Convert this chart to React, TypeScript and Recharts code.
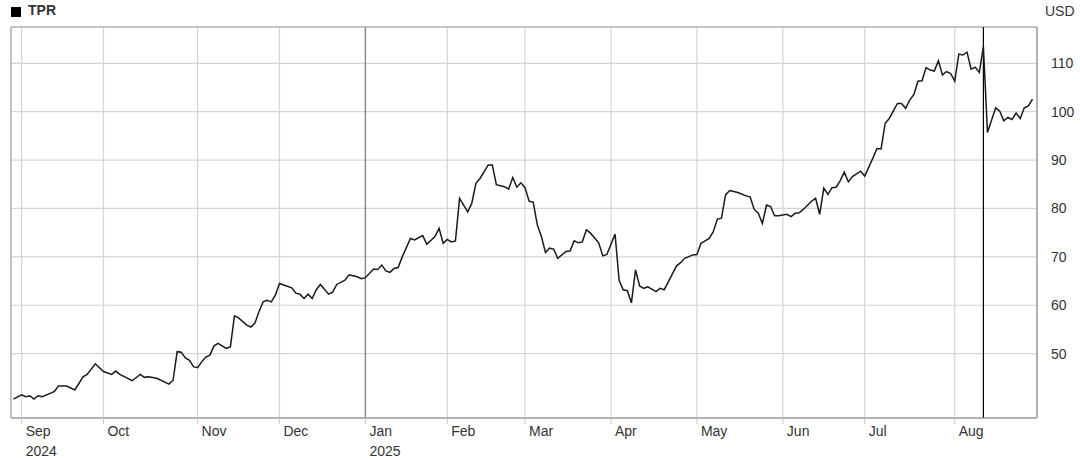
import {
  LineChart,
  Line,
  XAxis,
  YAxis,
  CartesianGrid,
  ReferenceLine,
  ReferenceArea,
} from 'recharts';

// trading-day index since Aug 29 2024, and the close
const tradingDay = [
  0, 2, 3, 4, 5, 6, 7, 9, 10, 11, 13, 15, 17, 18, 20, 22, 24, 25, 26, 29,
  31, 32, 33, 35, 38, 39, 40, 41, 42, 43, 44, 45, 46, 47, 48, 49, 50, 52, 53, 54,
  55, 57, 58, 59, 60, 61, 62, 63, 64, 65, 66, 68, 69, 70, 71, 72, 73, 74, 75, 77,
  78, 79, 81, 82, 83, 84, 85, 86, 88, 89, 90, 91, 92, 93, 94, 95, 97, 98, 100, 101,
  103, 104, 105, 106, 107, 108, 109, 111, 112, 113, 114, 116, 117, 118, 120, 121, 122, 123, 124, 125,
  126, 127, 128, 129, 130, 131, 132, 133, 135, 136, 137, 138, 139, 140, 141, 143, 144, 145, 147, 148,
  149, 150, 151, 152, 153, 154, 155, 157, 158, 159, 162, 163, 164, 166, 167, 168, 169, 170, 171, 172,
  173, 174, 175, 176, 177, 179, 180, 181, 182, 183, 184, 185, 186, 187, 189, 190, 191, 192, 193, 195,
  196, 197, 198, 199, 200, 201, 202, 203, 204, 205, 207, 208, 210, 211, 212, 213, 214, 216, 217, 218,
  219, 220, 221, 222, 223, 224, 225, 226, 227, 228, 229, 230, 231, 232, 233, 234, 235, 236, 237, 238,
  240, 241, 242, 243, 244, 245, 246, 247, 248, 249,
];

const closePrice = [
  40.6, 41.5, 41.1, 41.3, 40.6, 41.3, 41.1, 41.8, 42.2, 43.3, 43.3, 42.5, 45.2, 45.7, 47.9, 46.3, 45.7, 46.4, 45.7, 44.4,
  45.7, 45.1, 45.2, 44.9, 43.7, 44.5, 50.4, 50.3, 49.1, 48.6, 47.3, 47.1, 48.3, 49.3, 49.7, 51.6, 52.1, 51.1, 51.4, 57.8,
  57.4, 55.9, 55.5, 56.3, 58.7, 60.7, 61.0, 60.7, 62.1, 64.5, 64.2, 63.6, 62.5, 62.3, 61.4, 62.3, 61.4, 63.2, 64.3, 62.3,
  62.7, 64.3, 65.2, 66.3, 66.1, 65.9, 65.5, 65.7, 67.5, 67.4, 68.3, 67.1, 66.8, 67.6, 67.8, 70.0, 73.8, 73.5, 74.4, 72.6,
  74.2, 75.9, 72.8, 73.6, 73.1, 73.3, 82.1, 79.3, 81.1, 85.2, 86.2, 89.0, 89.0, 84.9, 84.5, 84.0, 86.4, 84.4, 85.3, 84.3,
  81.5, 81.3, 76.6, 74.2, 70.9, 71.8, 71.6, 69.7, 71.1, 71.2, 73.3, 72.9, 73.1, 75.6, 74.9, 72.9, 70.2, 70.5, 74.7, 65.1,
  63.2, 63.0, 60.5, 67.3, 64.0, 63.5, 63.8, 62.8, 63.5, 63.2, 68.1, 68.8, 69.7, 70.4, 70.5, 72.8, 73.3, 73.8, 75.2, 77.8,
  78.0, 82.8, 83.7, 83.5, 83.3, 82.6, 82.4, 79.8, 79.0, 76.9, 80.7, 80.4, 78.5, 78.5, 78.8, 78.3, 79.0, 79.1, 79.8, 81.5,
  82.1, 78.8, 84.2, 82.9, 84.3, 84.4, 85.7, 87.5, 85.5, 86.6, 87.7, 86.7, 90.4, 92.4, 92.3, 97.6, 98.6, 101.7, 101.7, 100.7,
  102.4, 103.5, 106.3, 106.4, 109.1, 108.6, 108.4, 110.5, 107.6, 108.3, 107.9, 106.3, 111.9, 111.7, 112.3, 108.8, 109.2, 108.1, 113.4, 95.7,
  100.8, 100.1, 98.1, 98.8, 98.4, 99.7, 98.6, 100.8, 101.2, 102.6,
];

// first trading day of each month
const monthTicks = [2, 22, 45, 65, 86, 106, 125, 146, 167, 188, 208, 230];
const monthLabels = ['Sep', 'Oct', 'Nov', 'Dec', 'Jan', 'Feb', 'Mar', 'Apr', 'May', 'Jun', 'Jul', 'Aug'];
const yearTicks = [2, 86];
const yearLabels = ['2024', '2025'];

const priceTicks = [50, 60, 70, 80, 90, 100, 110];

const yearStartDay = 86;
const markerDay = 237;

const data = tradingDay.map((d, i) => ({ day: d, close: closePrice[i] }));

const X_DOMAIN: [number, number] = [-0.6, 250.1];
const Y_DOMAIN: [number, number] = [36.7, 117.5];

const FONT = '"Liberation Sans", Arial, sans-serif';
const TEXT = '#333';

function MonthTick({ x, y, payload }: any) {
  const idx = monthTicks.indexOf(payload.value);
  const yi = yearTicks.indexOf(payload.value);
  return (
    <g>
      <text x={x + 4} y={y} dy="0.71em" fill={TEXT} fontSize={14} fontFamily={FONT}>
        {monthLabels[idx]}
      </text>
      {yi >= 0 && (
        <text x={x + 4} y={y + 20} dy="0.71em" fill={TEXT} fontSize={14} fontFamily={FONT}>
          {yearLabels[yi]}
        </text>
      )}
    </g>
  );
}

export default function App() {
  return (
    <div style={{ position: 'absolute', left: 0, top: 0, width: 1080, height: 460, background: '#fff', fontFamily: FONT }}>
      <div style={{ position: 'absolute', left: 11, top: 7, width: 10, height: 10, background: '#000' }} />
      <div style={{ position: 'absolute', left: 28, top: 2, fontSize: 14, fontWeight: 'bold', color: TEXT }}>TPR</div>
      <div style={{ position: 'absolute', left: 1045, top: 3, fontSize: 14, color: TEXT }}>USD</div>
      <LineChart
        width={1080}
        height={460}
        data={data}
        margin={{ top: 27, right: 0, bottom: 0, left: 11 }}
      >
        <CartesianGrid stroke="#d4d4d4" strokeWidth={1.2} />
        <XAxis
          dataKey="day"
          type="number"
          domain={X_DOMAIN}
          allowDataOverflow
          ticks={monthTicks}
          interval={0}
          height={42}
          tick={<MonthTick />}
          tickSize={6}
          tickMargin={2}
          tickLine={{ stroke: '#c8c8c8' }}
          axisLine={{ stroke: '#a0a0a0' }}
        />
        <YAxis
          orientation="right"
          type="number"
          domain={Y_DOMAIN}
          allowDataOverflow
          ticks={priceTicks}
          width={43}
          tickLine={false}
          tickMargin={8}
          axisLine={{ stroke: '#a0a0a0' }}
          tick={{ fill: TEXT, fontSize: 14, fontFamily: FONT, textAnchor: 'start' }}
        />
        <ReferenceArea
          x1={X_DOMAIN[0]}
          x2={X_DOMAIN[1]}
          y1={Y_DOMAIN[0]}
          y2={Y_DOMAIN[1]}
          fill="none"
          stroke="#a0a0a0"
          ifOverflow="visible"
        />
        <ReferenceLine x={yearStartDay} stroke="#8a8a8a" strokeWidth={1.4} />
        <ReferenceLine x={markerDay} stroke="#000" strokeWidth={1.2} />
        <Line
          type="linear"
          dataKey="close"
          stroke="#1a1a1a"
          strokeWidth={1.5}
          dot={false}
          isAnimationActive={false}
        />
      </LineChart>
    </div>
  );
}
